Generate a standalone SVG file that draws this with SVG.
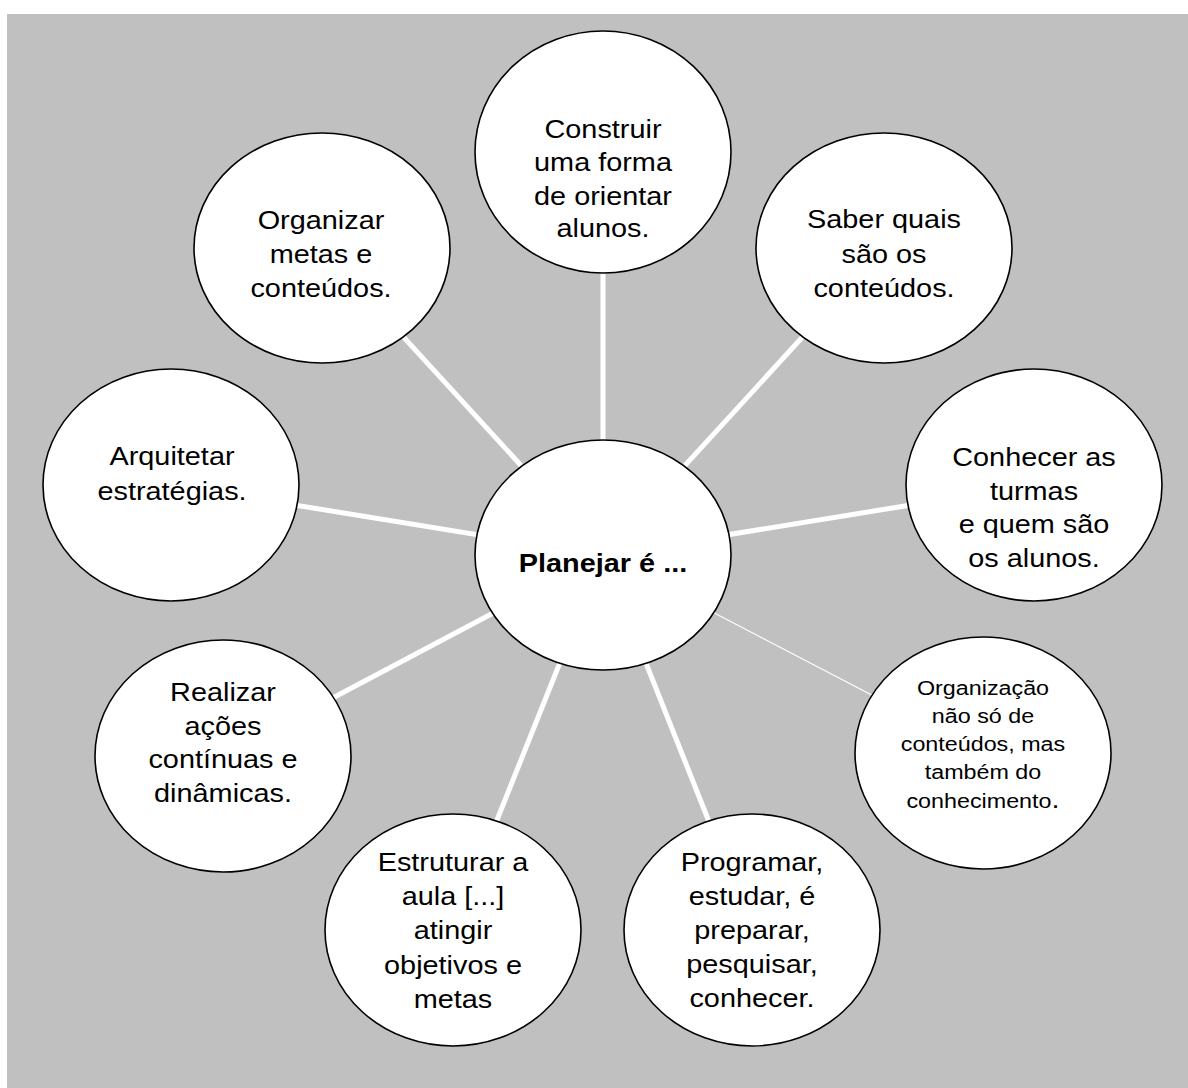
<svg xmlns="http://www.w3.org/2000/svg" width="1188" height="1088" viewBox="0 0 1188 1088">
<style>
.node ellipse{fill:#fff;stroke:#000;stroke-width:1.6}
.t{font-family:"Liberation Sans",Arial,Helvetica,sans-serif;font-size:26px;text-anchor:middle;fill:#000}
.s{font-size:21px}
.b{font-weight:bold}
.link{stroke:#fff;stroke-width:5;fill:none}
.thin{stroke:#fff;stroke-width:1.2;fill:none}
</style>
<rect x="0" y="0" width="1188" height="1088" fill="#fff"/>
<rect x="7" y="14" width="1181" height="1074" fill="#c0c0c0"/>
<g id="connectors">
<line class="link" x1="603" y1="555" x2="603" y2="152"/>
<line class="link" x1="603" y1="555" x2="322" y2="248"/>
<line class="link" x1="603" y1="555" x2="884" y2="248"/>
<line class="link" x1="603" y1="555" x2="171" y2="485"/>
<line class="link" x1="603" y1="555" x2="1034" y2="485"/>
<line class="thin" x1="603" y1="555" x2="983" y2="753"/>
<line class="link" x1="603" y1="555" x2="223" y2="756"/>
<line class="link" x1="603" y1="555" x2="453" y2="930"/>
<line class="link" x1="603" y1="555" x2="752" y2="930"/>
</g>
<g id="n-construir" class="node">
<ellipse cx="603" cy="152" rx="128" ry="121"/>
<text class="t" transform="translate(603 0) scale(1.11 1)" x="0"><tspan x="0" y="138">Construir</tspan><tspan x="0" y="171">uma forma</tspan><tspan x="0" y="205">de orientar</tspan><tspan x="0" y="237">alunos.</tspan></text>
</g>
<g id="n-organizar" class="node">
<ellipse cx="322" cy="248" rx="128" ry="115"/>
<text class="t" transform="translate(321 0) scale(1.11 1)" x="0"><tspan x="0" y="229">Organizar</tspan><tspan x="0" y="263">metas e</tspan><tspan x="0" y="297">conteúdos.</tspan></text>
</g>
<g id="n-saber" class="node">
<ellipse cx="884" cy="248" rx="128" ry="115"/>
<text class="t" transform="translate(884 0) scale(1.11 1)" x="0"><tspan x="0" y="228">Saber quais</tspan><tspan x="0" y="263">são os</tspan><tspan x="0" y="297">conteúdos.</tspan></text>
</g>
<g id="n-arquitetar" class="node">
<ellipse cx="171" cy="485" rx="128" ry="116"/>
<text class="t" transform="translate(172 0) scale(1.11 1)" x="0"><tspan x="0" y="465">Arquitetar</tspan><tspan x="0" y="500">estratégias.</tspan></text>
</g>
<g id="n-conhecer" class="node">
<ellipse cx="1034" cy="485" rx="128" ry="116"/>
<text class="t" transform="translate(1034 0) scale(1.11 1)" x="0"><tspan x="0" y="466">Conhecer as</tspan><tspan x="0" y="500">turmas</tspan><tspan x="0" y="533">e quem são</tspan><tspan x="0" y="567">os alunos.</tspan></text>
</g>
<g id="n-planejar" class="node">
<ellipse cx="603" cy="555" rx="128" ry="115"/>
<text class="t b" transform="translate(603 0) scale(1.11 1)" x="0" y="572">Planejar é ...</text>
</g>
<g id="n-organizacao" class="node">
<ellipse cx="983" cy="753" rx="128" ry="116"/>
<text class="t s" transform="translate(983 0) scale(1.11 1)" x="0"><tspan x="0" y="695">Organização</tspan><tspan x="0" y="723">não só de</tspan><tspan x="0" y="751">conteúdos, mas</tspan><tspan x="0" y="779">também do</tspan><tspan x="0" y="808">conhecimento<tspan style="font-size:26px">.</tspan></tspan></text>
</g>
<g id="n-realizar" class="node">
<ellipse cx="223" cy="756" rx="128" ry="116"/>
<text class="t" transform="translate(223 0) scale(1.11 1)" x="0"><tspan x="0" y="701">Realizar</tspan><tspan x="0" y="735">ações</tspan><tspan x="0" y="768">contínuas e</tspan><tspan x="0" y="802">dinâmicas.</tspan></text>
</g>
<g id="n-estruturar" class="node">
<ellipse cx="453" cy="930" rx="128" ry="116"/>
<text class="t" transform="translate(453 0) scale(1.11 1)" x="0"><tspan x="0" y="871">Estruturar a</tspan><tspan x="0" y="905">aula [...]</tspan><tspan x="0" y="939">atingir</tspan><tspan x="0" y="974">objetivos e</tspan><tspan x="0" y="1008">metas</tspan></text>
</g>
<g id="n-programar" class="node">
<ellipse cx="752" cy="930" rx="128" ry="116"/>
<text class="t" transform="translate(752 0) scale(1.11 1)" x="0"><tspan x="0" y="871">Programar,</tspan><tspan x="0" y="905">estudar, é</tspan><tspan x="0" y="939">preparar,</tspan><tspan x="0" y="973">pesquisar,</tspan><tspan x="0" y="1007">conhecer.</tspan></text>
</g>
</svg>
